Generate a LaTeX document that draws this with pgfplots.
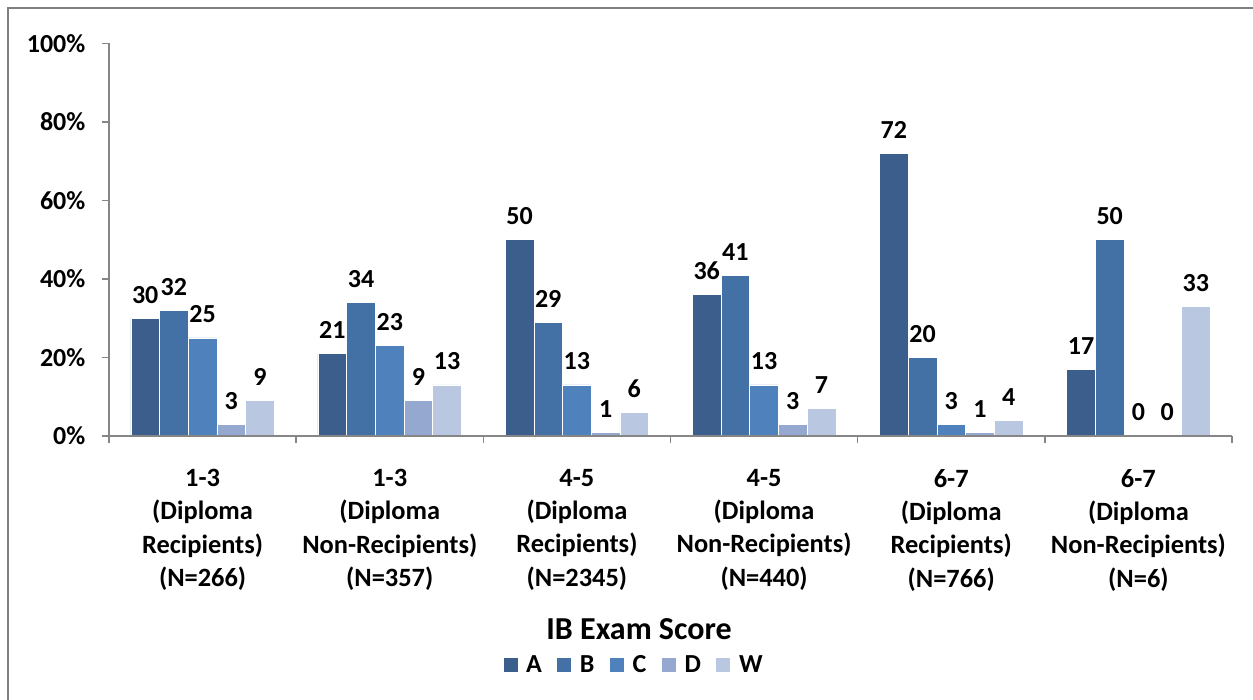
\documentclass[border=0pt]{standalone}
\usepackage{pgfplots}
\pgfplotsset{compat=1.18}
\usepackage{fontspec}
\setmainfont{Carlito}
\definecolor{cA}{HTML}{3B5E8C}
\definecolor{cB}{HTML}{4471A5}
\definecolor{cC}{HTML}{4F81BD}
\definecolor{cD}{HTML}{95A9D0}
\definecolor{cW}{HTML}{B9C7E1}
\definecolor{axgray}{HTML}{868686}
\definecolor{framegray}{HTML}{808080}
\begin{document}
\begin{tikzpicture}
\useasboundingbox (0,0) rectangle (626.5pt,350pt);
\draw[framegray, line width=1pt] (3.85pt,0) -- (3.85pt,345.85pt) -- (626.5pt,345.85pt);
\begin{axis}[
  at={(54.5pt,132pt)}, anchor=south west,
  scale only axis,
  width=561.5pt, height=196.25pt,
  xmin=-0.5, xmax=5.5, ymin=0, ymax=100,
  clip=false,
  axis on top,
  ybar=0pt, bar width=14.35pt,
  axis x line*=bottom, axis y line*=left,
  axis line style={axgray, line width=0.8pt},
  every tick/.style={axgray, line width=0.8pt},
  tick align=outside, major tick length=3.5pt,
  /pgf/number format/assume math mode=true,
  ytick={0,20,40,60,80,100},
  yticklabel={\pgfmathprintnumber{\tick}\%},
  yticklabel style={font=\fontsize{13}{15}\selectfont\bfseries, xshift=-4.8pt},
  xtick={-0.5,0.5,1.5,2.5,3.5,4.5,5.5},
  xticklabels={},
  extra x ticks={0,1,2,3,4,5},
  extra x tick style={major tick length=0pt},
  extra x tick labels={
    {1-3\\(Diploma\\Recipients)\\(N=266)},
    {1-3\\(Diploma\\Non-Recipients)\\(N=357)},
    {4-5\\(Diploma\\Recipients)\\(N=2345)},
    {4-5\\(Diploma\\Non-Recipients)\\(N=440)},
    {6-7\\(Diploma\\Recipients)\\(N=766)},
    {6-7\\(Diploma\\Non-Recipients)\\(N=6)}},
  extra x tick style={xticklabel style={align=center, anchor=north, font=\fontsize{13.2}{16.7}\selectfont\bfseries, yshift=-13pt}},
  xlabel={IB Exam Score},
  xlabel style={at={(rel axis cs:0.472,-0.5185)}, anchor=base, font=\fontsize{16}{19}\selectfont\bfseries},
  nodes near coords,
  nodes near coords style={font=\fontsize{13}{15}\selectfont\bfseries, yshift=4pt, text=black},
  legend columns=5,
  legend style={at={(rel axis cs:0.468,-0.585)}, anchor=center, draw=none,
    font=\fontsize{13}{15}\selectfont\bfseries,
    /tikz/every even column/.append style={column sep=5.25pt}},
  legend image code/.code={\fill[#1] (0pt,-3.5pt) rectangle (7.5pt,4pt); \path (9.5pt,0pt);},
  every axis plot/.append style={draw=white, line width=0.3pt},
]
\addplot[fill=cA] coordinates {(0,30) (1,21) (2,50) (3,36) (4,72) (5,17)};
\addplot[fill=cB] coordinates {(0,32) (1,34) (2,29) (3,41) (4,20) (5,50)};
\addplot[fill=cC] coordinates {(0,25) (1,23) (2,13) (3,13) (4,3) (5,0)};
\addplot[fill=cD] coordinates {(0,3) (1,9) (2,1) (3,3) (4,1) (5,0)};
\addplot[fill=cW] coordinates {(0,9) (1,13) (2,6) (3,7) (4,4) (5,33)};
\legend{A,B,C,D,W}
\end{axis}
\end{tikzpicture}
\end{document}
